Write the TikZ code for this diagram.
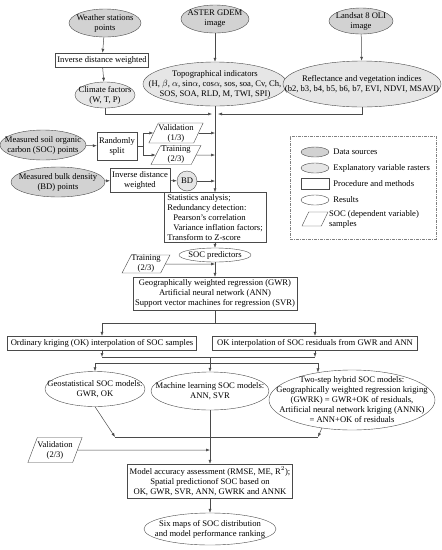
\documentclass[tikz,border=0pt]{standalone}
\usepackage{fontspec}
\setmainfont{Liberation Serif}
\usepackage{xcolor}
\usepackage{tikz}
\usetikzlibrary{arrows.meta,positioning,shapes.geometric}
\definecolor{SrcGray}{HTML}{D2D2D2}
\definecolor{RasterGray}{HTML}{E6E6E6}
\definecolor{LineGray}{HTML}{4A4A4A}

\begin{document}
\begin{tikzpicture}[
  x=1pt, y=-1pt,
  font=\fontsize{8.6}{10}\selectfont,
  proc/.style={draw=LineGray,fill=white,inner sep=2pt,align=center},
  res/.style={ellipse,draw=LineGray,fill=white,inner sep=-30pt,align=center},
  src/.style={res,fill=SrcGray},
  rast/.style={res,fill=RasterGray},
  sample/.style={trapezium,trapezium left angle=62,trapezium right angle=118,
    trapezium stretches=true,draw=LineGray,fill=white,inner sep=0pt,align=center},
  legendbox/.style={draw=gray,dash pattern=on 3pt off 1pt on 1pt off 1pt},
  arrow/.style={-{Latex[length=4pt,width=3pt]},draw=LineGray,line width=0.5pt},
  link/.style={draw=LineGray,line width=0.5pt}
]
  \useasboundingbox (0,0) rectangle (442,550);

  % data sources and rasters
  \node[src, minimum width=72pt, minimum height=28pt] (weather) at (105,23) {Weather stations\\points};
  \node[proc, minimum width=91pt, minimum height=14pt] (idwA) at (102,60) {Inverse distance weighted};
  \node[rast, minimum width=60pt, minimum height=26pt] (climate) at (105,95) {Climate factors\\(W, T, P)};
  \node[src, minimum width=68pt, minimum height=28pt] (aster) at (215,19) {ASTER GDEM\\image};
  \node[rast, minimum width=144pt, minimum height=44pt] (topo) at (215,84) {Topographical indicators\\(H, $\beta$, $\alpha$, sin$\alpha$, cos$\alpha$, sos, soa, Cv, Ch,\\SOS, SOA, RLD, M, TWI, SPI)};
  \node[src, minimum width=64pt, minimum height=26pt] (landsat) at (361,21) {Landsat 8 OLI\\image};
  \node[rast, minimum width=158pt, minimum height=46pt] (refl) at (362,84) {Reflectance and vegetation indices\\(b2, b3, b4, b5, b6, b7, EVI, NDVI, MSAVI)};
  \coordinate (jl) at (212,114);
  \coordinate (jr) at (218,114);

  \node[src, minimum width=86pt, minimum height=30pt] (soc) at (43,145) {Measured soil organic\\carbon (SOC) points};
  \node[proc, minimum width=40pt, minimum height=28pt] (split) at (117,146) {Randomly\\split};
  \coordinate (fork) at (143,146);
  \node[sample, minimum width=52pt, minimum height=20pt] (val) at (176,133) {Validation\\(1/3)};
  \node[sample, minimum width=50pt, minimum height=19pt] (train) at (176,155) {Training\\(2/3)};
  \node[src, minimum width=94pt, minimum height=30pt] (bd) at (58,182) {Measured bulk density\\(BD) points};
  \node[proc, minimum width=56pt, minimum height=24pt] (idwB) at (140,180) {Inverse distance\\weighted};
  \node[circle, draw=LineGray, fill=RasterGray, minimum size=20pt, inner sep=0pt] (bdc) at (187,181) {BD};

  \node[proc, align=left, minimum width=102pt] (stats) at (215,217.5) {Statistics analysis;\\Redundancy detection:\\\hspace{6pt}Pearson's correlation\\\hspace{6pt}Variance inflation factors;\\Transform to Z-score};
  \node[res, minimum width=72pt, minimum height=14pt] (socp) at (215,255) {SOC predictors};
  \node[sample, minimum width=44pt, minimum height=18pt] (trainB) at (146,264) {Training\\(2/3)};
  \node[proc, minimum width=162pt, minimum height=33pt] (gwr) at (215,293.5) {Geographically weighted regression (GWR)\\Artificial neural network (ANN)\\Support vector machines for regression (SVR)};
  \coordinate (sp) at (215,323);

  % interpolation and models
  \node[proc, minimum width=189pt, minimum height=14pt] (okA) at (102,343) {Ordinary kriging (OK) interpolation of SOC samples};
  \node[proc, minimum width=205pt, minimum height=14pt] (okB) at (315,343) {OK interpolation of SOC residuals from GWR and ANN};
  \coordinate (m1) at (210,357);
  \coordinate (m2) at (210,363);
  \node[res, minimum width=100pt, minimum height=35pt] (geo) at (95,389) {Geostatistical SOC models:\\GWR, OK};
  \node[res, minimum width=118pt, minimum height=38pt] (ml) at (210,391) {Machine learning SOC models:\\ANN, SVR};
  \node[res, minimum width=166pt, minimum height=60pt] (two) at (352,400) {Two-step hybrid SOC models:\\Geographically weighted regression kriging\\(GWRK) = GWR+OK of residuals,\\Artificial neural network kriging (ANNK)\\= ANN+OK of residuals};
  \coordinate (m3a) at (115,437);
  \coordinate (m3b) at (318,437);
  \node[sample, minimum width=52pt, minimum height=25pt] (valC) at (55,450) {Validation\\(2/3)};
  \node[proc, minimum width=160pt, minimum height=34pt] (model) at (210,481) {Model accuracy assessment (RMSE, ME, R$^2$);\\Spatial predictionof SOC based on\\OK, GWR, SVR, ANN, GWRK and ANNK};
  \node[res, minimum width=132pt, minimum height=32pt] (six) at (210,529) {Six maps of SOC distribution\\and model performance ranking};

  % legend
  \node[legendbox, minimum width=146pt, minimum height=103pt] (legend) at (363,187.5) {};
  \node[src, minimum width=28pt, minimum height=10pt] (lg1) at (315,152) {};
  \node[rast, minimum width=28pt, minimum height=10pt] (lg2) at (315,168) {};
  \node[proc, minimum width=28pt, minimum height=11pt] (lg3) at (315,184) {};
  \node[res, minimum width=28pt, minimum height=10pt] (lg4) at (315,200) {};
  \node[sample, inner sep=1pt, minimum width=26pt, minimum height=14pt] (lg5) at (315,219) {};
  \node[right=4pt of lg1, inner sep=0pt] {Data sources};
  \node[right=4pt of lg2, inner sep=0pt] {Explanatory variable rasters};
  \node[right=4pt of lg3, inner sep=0pt] {Procedure and methods};
  \node[right=4pt of lg4, inner sep=0pt] {Results};
  \node[right=4pt of lg5, inner sep=0pt, align=left] {SOC (dependent variable)\\samples};

  % connectors
  \draw[arrow] (weather) -- (idwA);
  \draw[arrow] (idwA) -- (climate);
  \draw[arrow] (aster) -- (topo);
  \draw[arrow] (landsat) -- (refl);
  \draw[arrow] (climate) |- (jl);
  \draw[arrow] (refl) |- (jr);
  \draw[arrow] (topo) -- (stats);
  \draw[arrow] (soc) -- (split);
  \draw[link] (split) -- (fork);
  \draw[arrow] (fork) |- (val);
  \draw[arrow] (fork) |- (train);
  \draw[arrow] (val) -- (val -| stats);
  \draw[arrow] (train) -- (train -| stats);
  \draw[arrow] (bd) -- (idwB);
  \draw[arrow] (idwB) -- (bdc);
  \draw[arrow] (bdc) -- (bdc -| stats);
  \draw[arrow] (stats) -- (socp);
  \draw[arrow] (socp) -- (gwr);
  \draw[arrow] (trainB) -- (trainB -| gwr);
  \draw[link] (gwr) -- (sp);
  \draw[arrow] (sp) -| (okA);
  \draw[arrow] (sp) -| (okB);
  \draw[arrow] (okA) -- (okA |- m1);
  \draw[arrow] (okB) -- (okB |- m1);
  \draw[link] (okA |- m1) -- (okB |- m1);
  \draw[link] (m1) -- (m2);
  \draw[link] (geo |- m2) -- (two.141 |- m2);
  \draw[arrow] (geo |- m2) -- (geo);
  \draw[arrow] (m2) -- (ml);
  \draw[arrow] (two.141 |- m2) -- (two.141);
  \draw[arrow] (geo.south) -- (m3a);
  \draw[arrow] (two.-137) -- (m3b);
  \draw[link] (m3a) -- (m3b);
  \draw[arrow] (ml) -- (model);
  \draw[arrow] (valC) -- (valC -| model);
  \draw[arrow] (model) -- (six);
\end{tikzpicture}
\end{document}
